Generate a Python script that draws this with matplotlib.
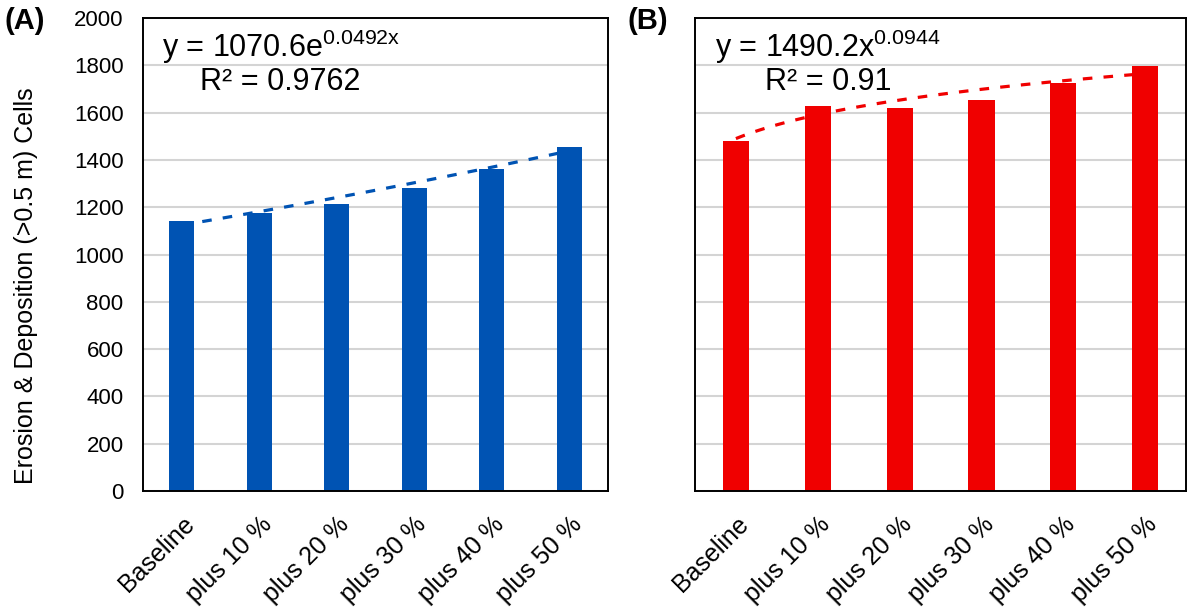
import numpy as np
import matplotlib.pyplot as plt

plt.rcParams['font.family'] = ['Liberation Sans', 'DejaVu Sans']
plt.rcParams['mathtext.fontset'] = 'custom'
plt.rcParams['mathtext.rm'] = 'Liberation Sans'
plt.rcParams['mathtext.default'] = 'regular'

categories = ['Baseline', 'plus 10 %', 'plus 20 %', 'plus 30 %', 'plus 40 %', 'plus 50 %']
cells_a = [1143, 1174, 1214, 1281, 1361, 1453]
cells_b = [1481, 1629, 1619, 1655, 1727, 1798]

# trendline coefficients shown on the chart
exp_a, exp_b = 1070.6, 0.0492
pow_a, pow_b = 1490.2, 0.0944

blue = '#0053B3'
red = '#F00000'

fig = plt.figure(figsize=(11.87, 6.13), dpi=100)
ax1 = fig.add_axes([0.1205, 0.199, 0.3917, 0.7716])
ax2 = fig.add_axes([0.5855, 0.199, 0.4137, 0.7716])

x = np.arange(len(categories))
xs = np.linspace(1, len(categories), 100)

for ax, vals, col in [(ax1, cells_a, blue), (ax2, cells_b, red)]:
    ax.bar(x, vals, width=0.32, color=col, zorder=2)
    ax.set_ylim(0, 2000)
    ax.set_xlim(-0.5, len(categories) - 0.5)
    ax.set_yticks(range(0, 2001, 200))
    ax.yaxis.grid(True, color='#d4d4d4', lw=1.5, zorder=0)
    ax.set_axisbelow(True)
    ax.set_xticks(x)
    ax.set_xticklabels(categories, rotation=45, ha='right', rotation_mode='anchor')
    ax.tick_params(axis='y', length=0, labelsize=16, pad=14)
    ax.tick_params(axis='x', length=0, labelsize=18, pad=15)
    for s in ax.spines.values():
        s.set_linewidth(1.4)
        s.set_color('black')

ax1.plot(xs - 1, exp_a * np.exp(exp_b * xs), color=blue, lw=2.3, dashes=(3, 3.5), zorder=3)
ax2.plot(xs - 1, pow_a * xs ** pow_b, color=red, lw=2.3, dashes=(3, 3.5), zorder=3)

ax2.set_yticklabels([])
ax1.set_ylabel('Erosion & Deposition (>0.5 m) Cells', fontsize=18)
ax1.yaxis.set_label_coords(-0.225, 0.435)

ax1.text(0.041, 0.939, 'y = 1070.6e$^{0.0492x}$', transform=ax1.transAxes, fontsize=22, va='center')
ax1.text(0.123, 0.865, 'R² = 0.9762', transform=ax1.transAxes, fontsize=22, va='center')
ax2.text(0.041, 0.939, 'y = 1490.2x$^{0.0944}$', transform=ax2.transAxes, fontsize=22, va='center')
ax2.text(0.143, 0.865, 'R² = 0.91', transform=ax2.transAxes, fontsize=22, va='center')

fig.text(0.004, 0.965, '(A)', fontsize=21, fontweight='bold', va='center')
fig.text(0.529, 0.965, '(B)', fontsize=21, fontweight='bold', va='center')

fig.savefig('out.png', dpi=100)
